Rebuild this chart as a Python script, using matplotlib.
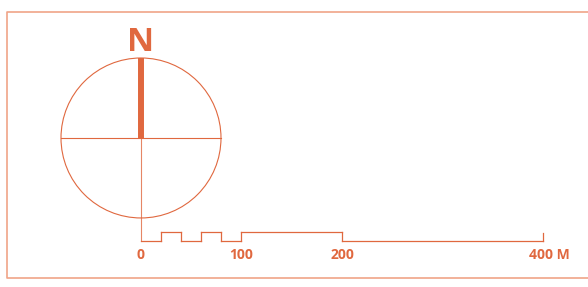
import matplotlib
matplotlib.use('Agg')
import matplotlib.pyplot as plt
from matplotlib.patches import Circle

# scale bar data (metres)
breaks = [0, 20, 40, 60, 80, 100, 200, 400]
raised = [False, True, False, True, False, True, False]
tick_values = [0, 100, 200]
tick_labels = ['0', '100', '200']
end_label = '400 M'

main = '#E0683F'
frame = '#F0A488'

fig = plt.figure(figsize=(5.88, 2.87), dpi=100)
ax = fig.add_axes([0, 0, 1, 1])
ax.set_xlim(-140.3, 444.8)
ax.set_ylim(-46.1, 239.5)
ax.axis('off')

# frame
ax.plot([444.8, -133.3, -133.3, 444.8], [228.0, 228.0, -37.1, -37.1],
        color=frame, lw=1.2, solid_capstyle='butt')

# compass
cx, cy, r = 0, 102.2, 79.6
ax.add_patch(Circle((cx, cy), r, fill=False, ec=main, lw=0.8))
ax.plot([cx - r, cx + r], [cy, cy], color=main, lw=0.8)
ax.plot([cx, cx], [cy, cy + r], color=main, lw=4.3, solid_capstyle='butt')
ax.plot([cx, cx], [0, cy], color=main, lw=0.8, alpha=0.8)
ax.text(cx, 188.8, 'N', color=main, fontsize=24, fontweight='bold',
        family='Open Sans', ha='center', va='baseline')

# scale bar
h = 8.4
for i, up in enumerate(raised):
    x0, x1 = breaks[i], breaks[i + 1]
    y = h if up else 0
    ax.plot([x0, x1], [y, y], color=main, lw=0.9)
    if i > 0:
        ax.plot([x0, x0], [0, h], color=main, lw=0.9)
ax.plot([breaks[-1], breaks[-1]], [0, 7.5], color=main, lw=0.9)

for v, t in zip(tick_values, tick_labels):
    ax.text(v, -17.8, t, color=main, fontsize=10, fontweight='bold',
            family='Open Sans', ha='center', va='baseline')
ax.text(386, -17.8, end_label, color=main, fontsize=10, fontweight='bold',
        family='Open Sans', ha='left', va='baseline')

fig.savefig('out.png', dpi=100)
